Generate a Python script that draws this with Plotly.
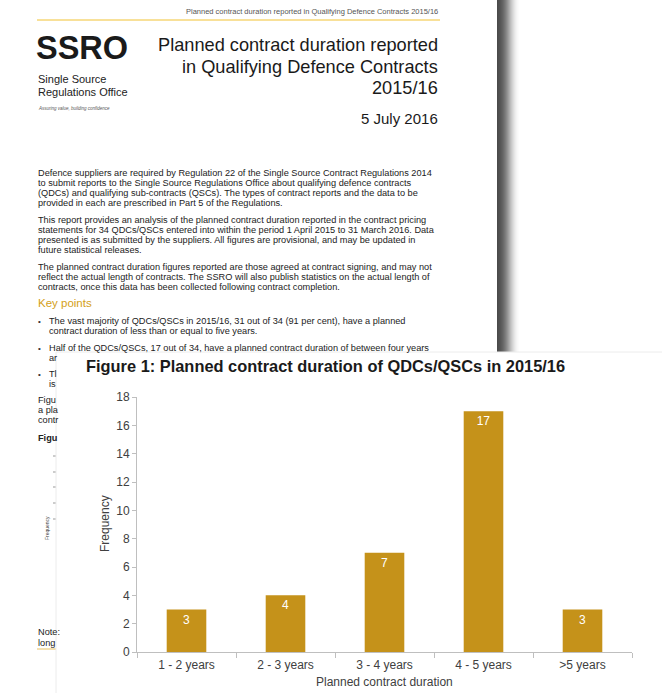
import plotly.graph_objects as go

# ---------------- data ----------------
categories = ["1 - 2 years", "2 - 3 years", "3 - 4 years", "4 - 5 years", ">5 years"]
frequency = [3, 4, 7, 17, 3]
y_ticks = [0, 2, 4, 6, 8, 10, 12, 14, 16, 18]

chart_title = "Figure 1: Planned contract duration of QDCs/QSCs in 2015/16"
x_title = "Planned contract duration"
y_title = "Frequency"

para_lines = [
    "Defence suppliers are required by Regulation 22 of the Single Source Contract Regulations 2014",
    "to submit reports to the Single Source Regulations Office about qualifying defence contracts",
    "(QDCs) and qualifying sub-contracts (QSCs). The types of contract reports and the data to be",
    "provided in each are prescribed in Part 5 of the Regulations.",
    "This report provides an analysis of the planned contract duration reported in the contract pricing",
    "statements for 34 QDCs/QSCs entered into within the period 1 April 2015 to 31 March 2016. Data",
    "presented is as submitted by the suppliers. All figures are provisional, and may be updated in",
    "future statistical releases.",
    "The planned contract duration figures reported are those agreed at contract signing, and may not",
    "reflect the actual length of contracts. The SSRO will also publish statistics on the actual length of",
    "contracts, once this data has been collected following contract completion.",
]
para_y = [173, 183, 193, 203, 220, 230, 240, 250, 267, 277, 287]

bullet_lines = [
    ("\u2022", "The vast majority of QDCs/QSCs in 2015/16, 31 out of 34 (91 per cent), have a planned", 321),
    ("", "contract duration of less than or equal to five years.", 331),
    ("\u2022", "Half of the QDCs/QSCs, 17 out of 34, have a planned contract duration of between four years", 348),
    ("", "ar", 358),
    ("\u2022", "Tl", 374),
    ("", "is", 384),
]
frag_lines = [("Figu", 400, False), ("a pla", 410, False), ("contr", 420, False),
              ("Figu", 438, True), ("Note:", 632, False), ("long", 643, False)]

W, H = 662, 693
ML, MR, MT, MB = 137, 30, 397, 41
PW, PH = W - ML - MR, H - MT - MB


def px(x):
    return (x - ML) / PW


def py(y):
    return (H - MB - y) / PH


FONT = "Liberation Sans, Arial, sans-serif"
BAR = "#C5921A"
AXIS = "#BFBFBF"
TXT = "#404040"

fig = go.Figure(go.Bar(
    x=categories, y=frequency,
    marker=dict(color=BAR, line=dict(width=0)),
    text=[str(v) for v in frequency],
    textposition="inside", insidetextanchor="end",
    textfont=dict(color="white", size=12, family=FONT),
    cliponaxis=False, hoverinfo="skip",
))

shapes = []
ann = []

# document page shadow (gradient strips)
shadow = ["#4a4a4a", "#4e4e4e", "#525252", "#575757", "#5d5d5d", "#636363", "#6b6b6b",
          "#747474", "#7e7e7e", "#898989", "#959595", "#a2a2a2", "#afafaf", "#bcbcbc",
          "#c8c8c8", "#d3d3d3", "#dddddd", "#e6e6e6", "#eeeeee", "#f4f4f4", "#f9f9f9", "#fcfcfc"]
for i, c in enumerate(shadow):
    shapes.append(dict(type="rect", xref="paper", yref="paper", layer="below",
                       x0=px(497 + i), x1=px(498 + i), y0=py(352), y1=py(0),
                       line=dict(width=0), fillcolor=c))

# header rule & note rule
shapes.append(dict(type="line", xref="paper", yref="paper", layer="below",
                   x0=px(37), x1=px(440), y0=py(20), y1=py(20),
                   line=dict(color="#F1C232", width=1)))
shapes.append(dict(type="line", xref="paper", yref="paper", layer="below",
                   x0=px(37), x1=px(56), y0=py(649), y1=py(649),
                   line=dict(color="#E8C060", width=1)))

# tiny ticks of the underlying figure
for yy in [456, 472, 487, 503, 519]:
    shapes.append(dict(type="line", xref="paper", yref="paper", layer="below",
                       x0=px(53), x1=px(56), y0=py(yy), y1=py(yy),
                       line=dict(color="#999999", width=1)))

# overlay panel
shapes.append(dict(type="rect", xref="paper", yref="paper", layer="below",
                   x0=px(56), x1=px(663), y0=py(694), y1=py(352),
                   line=dict(color="#ECECEC", width=1), fillcolor="white"))


def add_text(x, y, t, size, color="#222222", anchor="left", bold=False, italic=False, angle=0):
    if bold:
        t = "<b>" + t + "</b>"
    if italic:
        t = "<i>" + t + "</i>"
    ann.append(dict(xref="paper", yref="paper", x=px(x), y=py(y), text=t,
                    showarrow=False, xanchor=anchor, yanchor="middle", textangle=angle,
                    font=dict(family=FONT, size=size, color=color), borderpad=0))


# document header
add_text(439, 11, "Planned contract duration reported in Qualifying Defence Contracts 2015/16", 7.5, "#555555", "right")
add_text(35, 48, "SSRO", 32.5, "#1a1a1a", bold=True)
add_text(37, 79, "Single Source", 11, "#222222")
add_text(37, 92, "Regulations Office", 11, "#222222")
add_text(37, 108, "Assuring value, building confidence", 4.5, "#555555", italic=True)
add_text(439, 45, "Planned contract duration reported", 18.2, "#1a1a1a", "right")
add_text(439, 67, "in Qualifying Defence Contracts", 18.2, "#1a1a1a", "right")
add_text(439, 88, "2015/16", 18.2, "#1a1a1a", "right")
add_text(439, 119, "5 July 2016", 15, "#1a1a1a", "right")

for t, y in zip(para_lines, para_y):
    add_text(37, y, t, 9.2, "#222222")
add_text(37, 303, "Key points", 11.5, "#D4A017")
for b, t, y in bullet_lines:
    if b:
        add_text(37, y, b, 8, "#333333")
    add_text(48, y, t, 9.2, "#222222")
for t, y, bold in frag_lines:
    add_text(37, y, t, 9.2, "#222222", bold=bold)
add_text(47, 528, "Frequency", 5, "#444444", anchor="center", angle=-90)

# chart title and axis titles
add_text(85, 366, chart_title, 16.4, "#1a1a1a", bold=True)
add_text(105, 524, y_title, 12, TXT, anchor="center", angle=-90)
add_text(384, 682, x_title, 12, TXT, anchor="center")

fig.update_layout(
    width=W, height=H, autosize=False,
    margin=dict(l=ML, r=MR, t=MT, b=MB, pad=0, autoexpand=False),
    paper_bgcolor="white", plot_bgcolor="rgba(0,0,0,0)",
    showlegend=False, bargap=0.6,
    shapes=shapes, annotations=ann,
    font=dict(family=FONT, size=12, color=TXT),
    xaxis=dict(
        showgrid=False, showline=True, linecolor=AXIS, linewidth=1,
        ticks="outside", tickson="boundaries", ticklen=5, tickcolor=AXIS,
        tickfont=dict(size=12, color=TXT, family=FONT), ticklabelstandoff=2,
        automargin=False, fixedrange=True,
    ),
    yaxis=dict(
        range=[0, 18], tickvals=y_ticks, showgrid=False, zeroline=False,
        showline=True, linecolor=AXIS, linewidth=1,
        ticks="outside", ticklen=4, tickcolor=AXIS,
        tickfont=dict(size=12, color=TXT, family=FONT),
        automargin=False, fixedrange=True,
    ),
)

fig.write_html("out.html", config={"displayModeBar": False})
